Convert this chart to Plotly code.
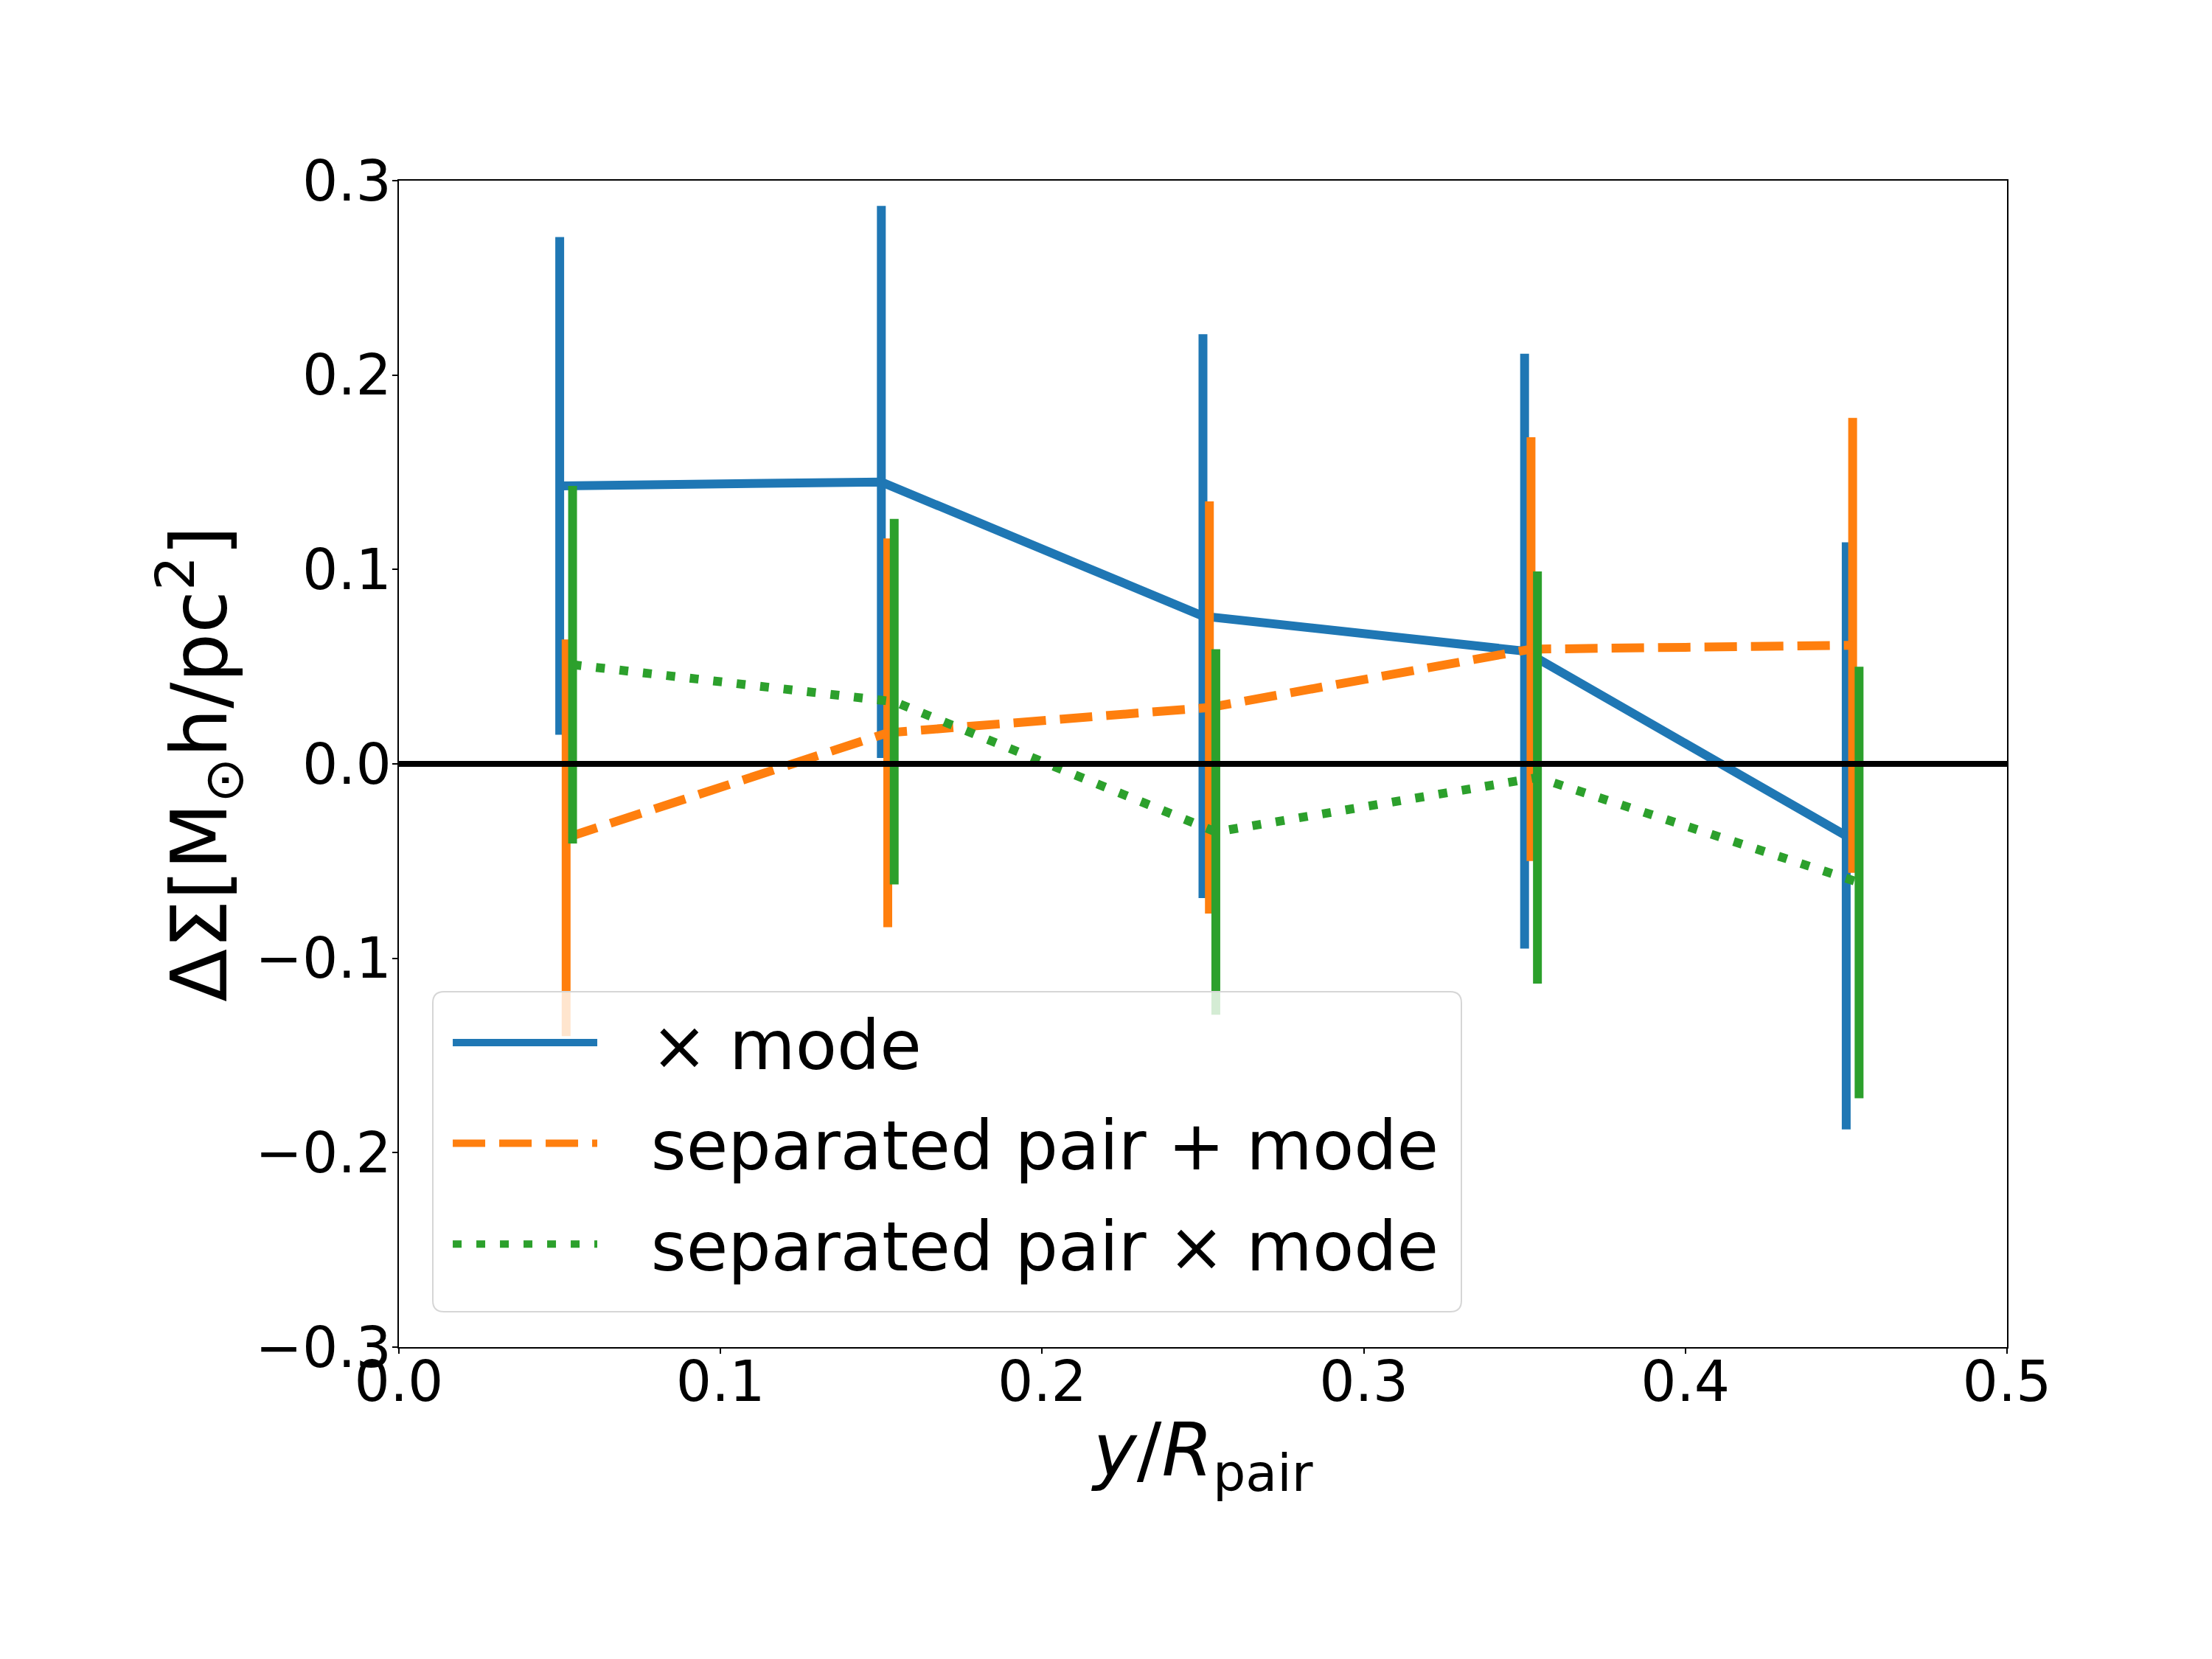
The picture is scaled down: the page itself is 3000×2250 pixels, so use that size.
import plotly.graph_objects as go

x_base = [0.05, 0.15, 0.25, 0.35, 0.45]
x_offset_plus = 0.002
x_offset_cross_sep = 0.004

names = ["× mode", "separated pair + mode", "separated pair × mode"]

cross_y = [0.143, 0.145, 0.076, 0.058, -0.037]
cross_err = [0.128, 0.142, 0.145, 0.153, 0.151]

plus_sep_y = [-0.038, 0.016, 0.029, 0.059, 0.061]
plus_sep_err = [0.102, 0.100, 0.106, 0.109, 0.117]

cross_sep_y = [0.051, 0.032, -0.035, -0.007, -0.061]
cross_sep_err = [0.092, 0.094, 0.094, 0.106, 0.111]

xticks = [0.0, 0.1, 0.2, 0.3, 0.4, 0.5]
yticks = [-0.3, -0.2, -0.1, 0.0, 0.1, 0.2, 0.3]

colors = ["#1f77b4", "#ff7f0e", "#2ca02c"]
FONT = "DejaVu Sans"
LW = 12

fig = go.Figure()

series = [
    (x_base, cross_y, cross_err, "solid"),
    ([v + x_offset_plus for v in x_base], plus_sep_y, plus_sep_err, "44px,19px"),
    ([v + x_offset_cross_sep for v in x_base], cross_sep_y, cross_sep_err, "12px,20px"),
]

for i, (xs, ys, es, dash) in enumerate(series):
    fig.add_trace(go.Scatter(
        x=xs, y=ys, mode="lines", name="\u00a0\u00a0\u200a" + names[i] + "\u00a0",
        legendgroup=str(i),
        line=dict(color=colors[i], width=LW, dash=dash),
        error_y=dict(type="data", array=es, visible=True, color=colors[i],
                     thickness=12, width=0),
    ))

fig.add_hline(y=0, line=dict(color="black", width=8), layer="above")

# legend frame (decorative, rounded, semi-transparent)
lx0, lx1, ly0, ly1 = 0.0211, 0.6607, 0.0303, 0.3047
rx, ry = 0.0069, 0.0095
path = (f"M {lx0+rx},{ly1} L {lx1-rx},{ly1} Q {lx1},{ly1} {lx1},{ly1-ry} "
        f"L {lx1},{ly0+ry} Q {lx1},{ly0} {lx1-rx},{ly0} L {lx0+rx},{ly0} "
        f"Q {lx0},{ly0} {lx0},{ly0+ry} L {lx0},{ly1-ry} Q {lx0},{ly1} {lx0+rx},{ly1} Z")
fig.add_shape(type="path", path=path, xref="paper", yref="paper",
              fillcolor="rgba(255,255,255,0.8)", line=dict(color="#d6d6d6", width=2),
              layer="above")

axis_common = dict(
    showline=True, linecolor="black", linewidth=2, mirror=True,
    ticks="outside", ticklen=7, tickwidth=2, tickcolor="black",
    showgrid=False, zeroline=False,
    tickfont=dict(family=FONT, size=76, color="black"),
)

fig.update_xaxes(range=[0, 0.5], tickvals=xticks, tickformat=".1f",
                 ticklabelstandoff=-27,
                 title=dict(text="<i>y</i>/<i>R</i><sub>pair</sub>",
                            font=dict(family=FONT, size=100, color="black"),
                            standoff=14),
                 **axis_common)
fig.update_yaxes(range=[-0.3, 0.3], tickvals=yticks, tickformat=".1f",
                 ticklabelstandoff=-14,
                 title=dict(text="ΔΣ[M<sub>⊙</sub>h/pc<sup>2</sup>]",
                            font=dict(family=FONT, size=105, color="black"),
                            standoff=0),
                 **axis_common)

fig.update_layout(
    width=3000, height=2250,
    margin=dict(l=541, r=278, t=245, b=423, autoexpand=False),
    paper_bgcolor="white", plot_bgcolor="white",
    font=dict(family=FONT, color="black"),
    showlegend=True,
    legend=dict(
        x=0.0312, y=0.303, xanchor="left", yanchor="top",
        bgcolor="rgba(0,0,0,0)", borderwidth=0,
        font=dict(family=FONT, size=92, color="black"),
        itemwidth=196, tracegroupgap=14,
    ),
)

fig.write_html("out.html")
